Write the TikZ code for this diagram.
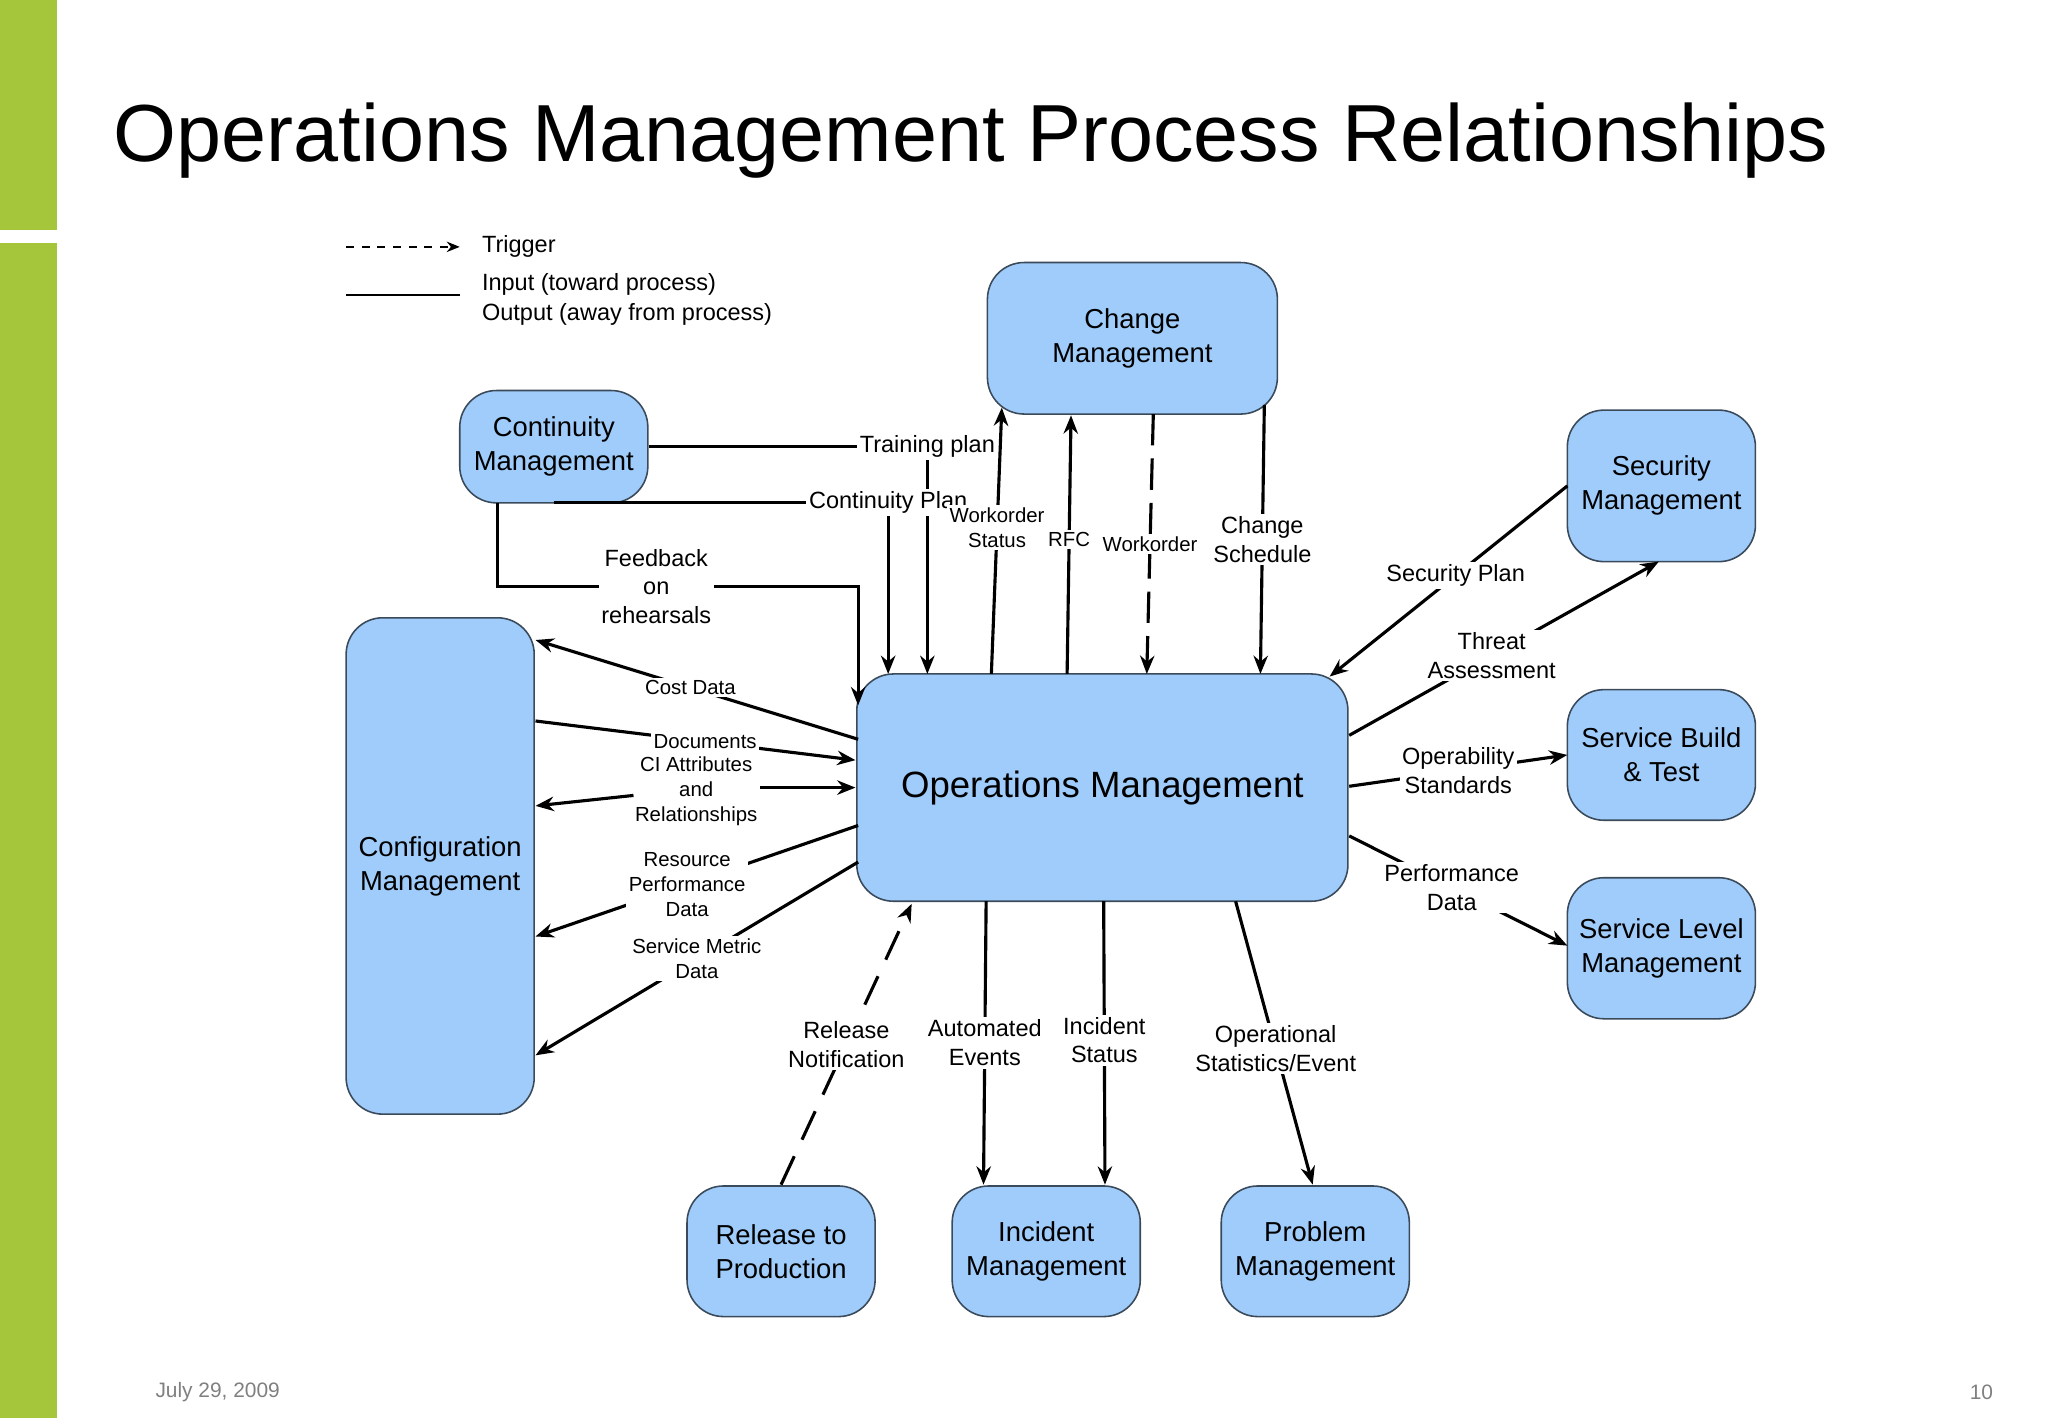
\documentclass[tikz,border=0pt]{standalone}
\usepackage{fontspec}
\setmainfont{Liberation Sans}
\newfontfamily\ttl{TeX Gyre Heros}
\usetikzlibrary{arrows.meta,calc}
\definecolor{boxfill}{HTML}{9FCCFA}
\definecolor{boxline}{HTML}{3A4A5A}
\definecolor{bar}{HTML}{A5C63B}
\begin{document}
\begin{tikzpicture}[x=0.5pt,y=-0.5pt,
 box/.style={draw=boxline,line width=0.6pt,fill=boxfill,rounded corners=14pt,align=center,font=\fontsize{10.5}{13}\selectfont,inner sep=1pt},
 ln/.style={line width=1.2pt},
 ar/.style={ln,-{Stealth[length=7pt,width=5.5pt]}},
 lbl/.style={fill=white,inner sep=1pt,align=center,font=\fontsize{9}{11}\selectfont},
 slbl/.style={fill=white,inner sep=1pt,align=center,font=\fontsize{7.8}{9.6}\selectfont}]
\useasboundingbox (0,0) rectangle (1568,1086);
\fill[white] (0,0) rectangle (1568,1086);
\fill[bar] (0,0) rectangle (44,176);
\fill[bar] (0,186) rectangle (44,1086);
\node[anchor=west,font=\fontsize{31}{36}\selectfont] (title) at (80,108) {Operations Management Process Relationships};
\node[anchor=west,font=\fontsize{8}{10}\selectfont,text=gray] (date) at (112,1066) {July 29, 2009};
\node[font=\fontsize{8}{10}\selectfont,text=gray] (pg) at (1517,1066) {10};
% legend
\coordinate (l1a) at (265,189); \coordinate (l1b) at (352,189);
\draw[dashed,line width=0.6pt,-{Stealth[length=5pt,width=4pt]}] (l1a) -- (l1b);
\node[anchor=west,font=\fontsize{9}{11}\selectfont] (trig) at (362,189) {Trigger};
\coordinate (l2a) at (265,226); \coordinate (l2b) at (352,226);
\draw[line width=0.6pt] (l2a) -- (l2b);
\node[anchor=west,font=\fontsize{9}{11.5}\selectfont,align=left] (io) at (362,229) {Input (toward process)\\Output (away from process)};
% boxes
\node[box,minimum width=111pt,minimum height=58pt] (chg) at (867,259) {Change\\Management};
\node[box,minimum width=72pt,minimum height=43pt] (cont) at (424,342) {Continuity\\Management};
\node[box,minimum width=72pt,minimum height=58pt] (sec) at (1272,372) {Security\\Management};
\node[box,minimum width=72pt,minimum height=190pt] (cfg) at (337,663) {Configuration\\Management};
\node[box,minimum width=188pt,minimum height=87pt,font=\fontsize{14}{17}\selectfont] (ops) at (844,603) {Operations Management};
\node[box,minimum width=72pt,minimum height=50pt] (sbt) at (1272,578) {Service Build\\\& Test};
\node[box,minimum width=72pt,minimum height=54pt] (slm) at (1272,726) {Service Level\\Management};
\node[box,minimum width=72pt,minimum height=50pt] (rel) at (598,958) {Release to\\Production};
\node[box,minimum width=72pt,minimum height=50pt] (inc) at (801,958) {Incident\\Management};
\node[box,minimum width=72pt,minimum height=50pt] (prb) at (1007,958) {Problem\\Management};
% continuity edges
\draw[ar] (497,342) -| node[lbl,pos=0.5] {Training plan} (710,516);
\draw[ar] (424,385) -| node[lbl,pos=0.5] {Continuity Plan} (680,516);
\draw[ar] (381,385) |- (657,449) node[lbl,pos=0.72] {Feedback\\on\\rehearsals} -- (657,540);
% change edges
\draw[ar] (759,516) -- node[slbl,pos=0.55] {Workorder\\Status} (767,312);
\draw[ar] (817,516) -- node[slbl,pos=0.52] {RFC} (820,318);
\draw[ar,dashed,dash pattern=on 12pt off 5pt] (883,317) -- node[slbl,pos=0.5] {Workorder} (878,516);
\draw[ar] (968,310) -- node[lbl,pos=0.5] {Change\\Schedule} (965,516);
% right
\draw[ar] (1200,372) -- node[lbl,pos=0.47] {Security Plan} (1018,518);
\draw[ar] (1033,563) -- node[lbl,pos=0.46] {Threat\\Assessment} (1270,430);
\draw[ar] (1033,602) -- node[lbl,pos=0.5] {Operability\\Standards} (1200,578);
\draw[ar] (1033,640) -- node[lbl,pos=0.47] {Performance\\Data} (1200,724);
% config
\draw[ar] (657,566) -- node[slbl,pos=0.52] {Cost Data} (410,490);
\draw[ar] (410,552) -- node[slbl,pos=0.53] {Documents} (655,582);
\draw[ar] (582,603) -- (655,603);
\draw[ar] (485,609) -- (410,617);
\node[slbl,fill=none] (ci) at (533,606) {CI Attributes\\and\\Relationships};
\draw[ar] (657,632) -- node[slbl,pos=0.53] {Resource\\Performance\\Data} (410,717);
\draw[ar] (657,660) -- node[slbl,pos=0.5] {Service Metric\\Data} (410,808);
% bottom
\draw[ar,dashed,dash pattern=on 12pt off 7pt] (598,907) -- node[lbl,pos=0.5] {Release\\Notification} (698,692);
\draw[ar] (755,690) -- node[lbl,pos=0.5] {Automated\\Events} (753,907);
\draw[ar] (845,690) -- node[lbl,pos=0.49] {Incident\\Status} (846,907);
\draw[ar] (946,690) -- node[lbl,pos=0.52] {Operational\\Statistics/Event} (1005,907);
\end{tikzpicture}
\end{document}
